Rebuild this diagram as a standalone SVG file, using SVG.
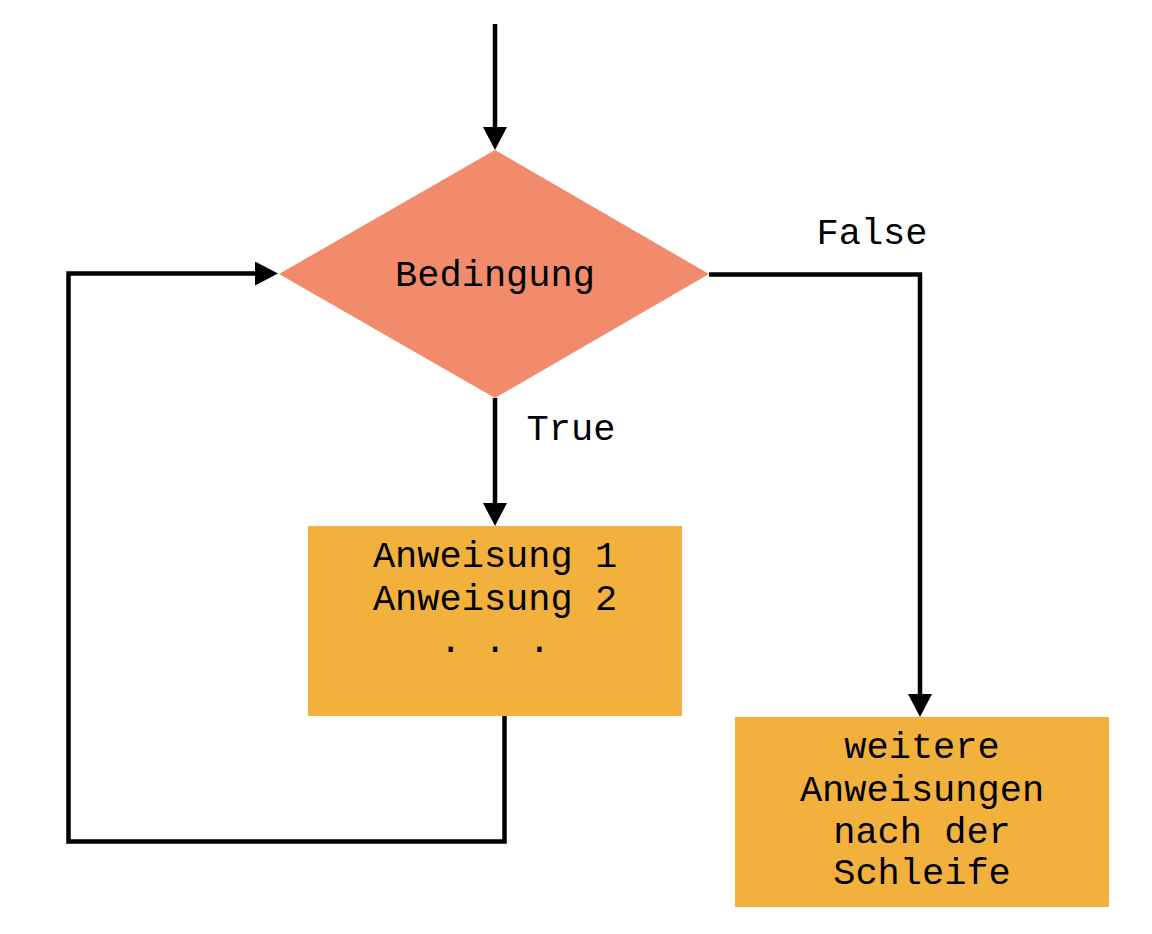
<svg xmlns="http://www.w3.org/2000/svg" width="1152" height="934" viewBox="0 0 1152 934">
  <style>
    .lbl { font-family: "Liberation Mono", "Courier New", monospace; font-size: 37px; fill: #000; text-anchor: middle; }
    .conn { fill: none; stroke: #000; stroke-width: 4.5; stroke-linejoin: miter; stroke-linecap: butt; }
    .box { fill: #F2B13D; }
    .dec { fill: #F28B6B; }
  </style>
  <defs>
    <marker id="arrow" markerUnits="userSpaceOnUse" markerWidth="24" markerHeight="24" refX="0" refY="12" orient="auto" viewBox="0 0 24 24">
      <path d="M0,0 L23,12 L0,24 Z" fill="#000"/>
    </marker>
  </defs>
  <rect width="1152" height="934" fill="#fff"/>

  <g id="decision">
    <polygon class="dec" points="495,150 709,274 495,398 279,274"/>
    <text class="lbl" x="495" y="286">Bedingung</text>
  </g>

  <g id="body">
    <rect class="box" x="308" y="526" width="374" height="190"/>
    <text class="lbl" x="495" y="567">Anweisung 1</text>
    <text class="lbl" x="495" y="610">Anweisung 2</text>
    <text class="lbl" x="495" y="652">. . .</text>
  </g>

  <g id="after">
    <rect class="box" x="735" y="717" width="374" height="190"/>
    <text class="lbl" x="922" y="758">weitere</text>
    <text class="lbl" x="922" y="801">Anweisungen</text>
    <text class="lbl" x="922" y="843">nach der</text>
    <text class="lbl" x="922" y="884">Schleife</text>
  </g>

  <g id="connectors">
    <path class="conn" d="M495,24 V127" marker-end="url(#arrow)"/>
    <path class="conn" d="M495,398 V503" marker-end="url(#arrow)"/>
    <path class="conn" d="M709,274.5 H920 V694" marker-end="url(#arrow)"/>
    <path class="conn" d="M504.5,716 V841.5 H68.5 V273.5 H255" marker-end="url(#arrow)"/>
    <text class="lbl" x="872" y="244">False</text>
    <text class="lbl" x="571" y="440">True</text>
  </g>
</svg>
